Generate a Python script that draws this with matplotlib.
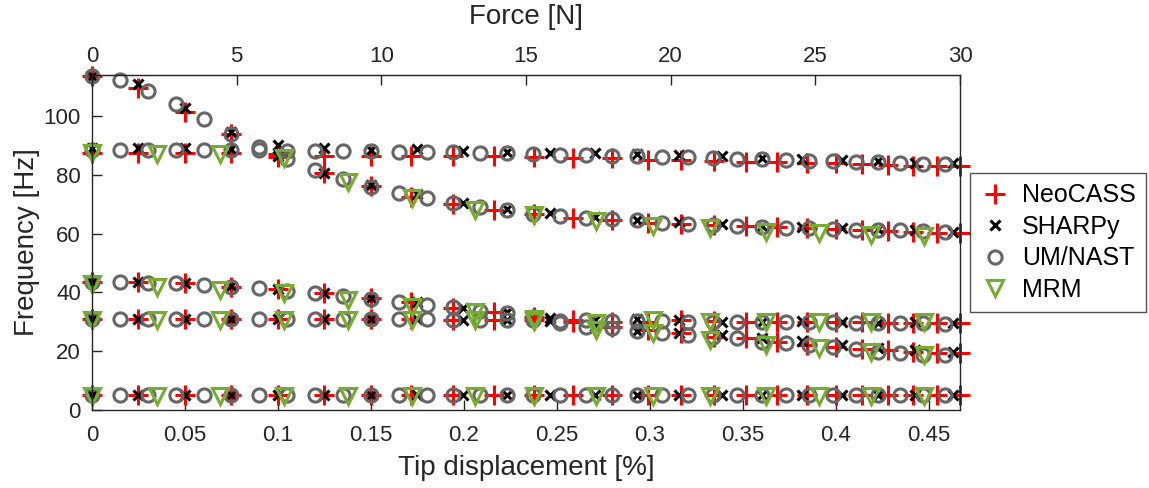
import matplotlib
matplotlib.use("Agg")
import matplotlib.pyplot as plt

plt.rcParams["font.family"] = ["Liberation Sans", "DejaVu Sans"]

# tip displacement [%] of each solver's load steps
neocass_x = [0, 0.025, 0.05, 0.075, 0.1, 0.125, 0.15, 0.1715, 0.194, 0.216, 0.2375, 0.2585, 0.2795,
             0.299, 0.3165, 0.3345, 0.3515, 0.3685, 0.3845, 0.4, 0.414, 0.428, 0.4415, 0.4545, 0.4667]
sharpy_x = [0, 0.025, 0.05, 0.075, 0.1, 0.125, 0.15, 0.1745, 0.1995, 0.223, 0.246, 0.2705, 0.293,
            0.3155, 0.3385, 0.36, 0.3815, 0.403, 0.4225, 0.4425, 0.463]
umnast_x = [0, 0.015, 0.03, 0.045, 0.06, 0.075, 0.09, 0.105, 0.12, 0.135, 0.15, 0.165, 0.18, 0.194,
            0.2085, 0.223, 0.237, 0.2515, 0.2655, 0.2795, 0.293, 0.3065, 0.3205, 0.334, 0.347, 0.36,
            0.373, 0.3855, 0.3985, 0.411, 0.4225, 0.4345, 0.447, 0.4585]
mrm_x = [0, 0.0349, 0.0688, 0.1032, 0.1376, 0.172, 0.2059, 0.2376, 0.271, 0.3016, 0.3323, 0.3624,
         0.3909, 0.4188, 0.4473]

# natural frequencies [Hz], one list per mode
neocass_f1 = [5.2, 5.2, 5.2, 5.2, 5.2, 5.2, 5.2, 5.2, 5.2, 5.2, 5.2, 5.2, 5.2, 5.2, 5.2, 5.2, 5.2,
              5.2, 5.2, 5.2, 5.2, 5.2, 5.2, 5.2, 5.2]
neocass_f2 = [30.9, 30.9, 30.9, 30.9, 30.9, 30.9, 30.9, 30.9, 30.7, 30.7, 30.5, 30.7, 30.1, 30.1,
              30.5, 30.2, 30.1, 29.8, 29.8, 29.8, 29.8, 29.7, 29.5, 29.5, 29.5]
neocass_f3 = [43.7, 43.7, 43.1, 42.0, 41.1, 39.7, 38.0, 36.9, 34.6, 33.5, 31.8, 30.0, 28.4, 27.2,
              26.2, 25.0, 24.5, 23.3, 22.2, 21.3, 20.6, 20.3, 19.9, 19.5, 19.4]
neocass_f4 = [87.3, 87.3, 87.3, 87.3, 87.0, 86.6, 86.6, 86.6, 86.6, 86.3, 86.0, 85.8, 85.6, 85.2,
              85.0, 84.6, 84.4, 84.3, 84.0, 83.9, 83.6, 83.4, 83.2, 83.0, 82.9]
neocass_f5 = [113.5, 109.7, 101.5, 94.0, 86.0, 80.8, 76.2, 72.4, 70.2, 68.0, 66.6, 65.5, 64.6, 63.5,
              63.4, 62.9, 62.5, 62.3, 61.8, 61.6, 61.2, 61.0, 60.6, 60.2, 60.1]

sharpy_f1 = [5.2, 5.2, 5.2, 5.2, 5.2, 5.2, 5.2, 5.2, 5.2, 5.2, 5.2, 5.2, 5.2, 5.2, 5.2, 5.2, 5.2,
             5.2, 5.2, 5.2, 5.2]
sharpy_f2 = [30.9, 30.9, 30.9, 30.9, 30.9, 30.9, 30.9, 30.9, 30.7, 30.7, 30.4, 30.7, 30.9, 30.7,
             29.9, 29.9, 30.2, 29.9, 29.7, 29.9, 29.7]
sharpy_f3 = [43.7, 43.7, 43.2, 42.1, 41.3, 39.9, 38.1, 36.8, 34.7, 33.2, 31.2, 28.5, 27.0, 26.3,
             25.6, 24.6, 23.4, 22.0, 21.2, 20.4, 19.6]
sharpy_f4 = [89.0, 89.0, 89.0, 88.7, 90.2, 89.0, 88.6, 88.7, 88.2, 87.8, 87.6, 87.3, 87.2, 86.8,
             86.3, 85.8, 85.5, 85.1, 84.6, 84.2, 84.0]
sharpy_f5 = [113.5, 110.8, 102.9, 94.7, 86.5, 80.8, 76.5, 73.6, 70.6, 68.4, 67.0, 65.7, 64.7, 64.0,
             63.4, 62.7, 62.3, 61.9, 61.5, 61.1, 60.7]

umnast_f1 = [5.2, 5.2, 5.2, 5.2, 5.2, 5.2, 5.2, 5.2, 5.2, 5.2, 5.2, 5.2, 5.2, 5.2, 5.2, 5.2, 5.2,
             5.2, 5.2, 5.2, 5.2, 5.2, 5.2, 5.2, 5.2, 5.2, 5.2, 5.2, 5.2, 5.2, 5.2, 5.2, 5.2, 5.2]
umnast_f2 = [30.9, 30.9, 30.9, 30.9, 30.9, 30.9, 30.9, 30.9, 30.9, 30.9, 30.9, 30.8, 30.8, 30.7,
             30.7, 30.7, 30.5, 30.2, 30.5, 30.2, 30.4, 30.2, 30.0, 29.9, 29.9, 29.8, 29.8, 29.8,
             29.8, 29.7, 29.7, 29.6, 29.6, 29.4]
umnast_f3 = [43.7, 43.6, 43.3, 43.1, 42.6, 42.0, 41.4, 40.4, 39.8, 38.8, 37.8, 36.7, 35.9, 35.0,
             33.8, 33.0, 31.6, 29.6, 28.4, 27.9, 26.9, 26.2, 25.6, 25.0, 24.5, 23.3, 22.8, 22.2,
             21.6, 20.8, 19.9, 19.4, 18.8, 18.8]
umnast_f4 = [88.6, 88.6, 88.6, 88.6, 88.6, 88.6, 88.6, 88.2, 88.2, 88.0, 88.0, 87.7, 87.7, 87.7,
             87.5, 87.5, 87.2, 86.9, 86.8, 86.6, 86.5, 86.1, 86.0, 85.8, 85.5, 85.4, 85.2, 84.9,
             84.7, 84.4, 84.3, 84.0, 83.8, 83.6]
umnast_f5 = [113.5, 112.2, 108.6, 104.0, 98.9, 94.0, 89.4, 85.3, 81.8, 78.7, 76.0, 74.0, 72.0, 70.6,
             69.0, 68.0, 66.8, 66.0, 65.5, 64.9, 64.5, 63.8, 63.4, 62.9, 62.6, 62.4, 62.1, 61.9,
             61.7, 61.4, 61.3, 61.1, 60.8, 60.6]

mrm_f1 = [4.6, 4.6, 4.6, 4.6, 4.6, 4.6, 4.6, 4.6, 4.6, 4.6, 4.6, 4.6, 4.6, 4.6, 4.6]
mrm_f2 = [30.7, 30.5, 30.5, 30.5, 30.5, 30.7, 30.7, 30.3, 29.6, 30.5, 30.1, 30.1, 30.1, 30.1, 30.1]
mrm_f3 = [42.8, 41.9, 40.8, 39.7, 37.5, 35.2, 33.2, 30.8, 27.3, 26.2, 23.9, 22.2, 21.1, 19.6, 18.8]
mrm_f4 = [87.3, 87.1, 87.1, 85.6, 77.7, 72.1, 68.0, 66.4, 64.2, 62.5, 61.9, 60.7, 60.1, 59.7, 59.1]

x_ticks = [0, 0.05, 0.1, 0.15, 0.2, 0.25, 0.3, 0.35, 0.4, 0.45]
x_tick_labels = ["0", "0.05", "0.1", "0.15", "0.2", "0.25", "0.3", "0.35", "0.4", "0.45"]
force_ticks = [0, 5, 10, 15, 20, 25, 30]
y_ticks = [0, 20, 40, 60, 80, 100]

x_max = 0.4667
force_max = 30.0

dark = "#262626"

fig = plt.figure(figsize=(11.49, 4.88), dpi=100)
ax = fig.add_axes([92 / 1149, 78 / 488, 868 / 1149, 335 / 488])


def draw(x, modes, label, **style):
    for i, f in enumerate(modes):
        ax.plot(x, f, linestyle="none", clip_on=False,
                label=label if i == 0 else None, **style)


draw(neocass_x, [neocass_f1, neocass_f2, neocass_f3, neocass_f4, neocass_f5], "NeoCASS",
     marker="+", color="red", markersize=14, markeredgewidth=2.2)
draw(sharpy_x, [sharpy_f1, sharpy_f2, sharpy_f3, sharpy_f4, sharpy_f5], "SHARPy",
     marker="x", color="black", markersize=6.5, markeredgewidth=2.2)
draw(umnast_x, [umnast_f1, umnast_f2, umnast_f3, umnast_f4, umnast_f5], "UM/NAST",
     marker="o", markerfacecolor="none", markeredgecolor="#666666", markersize=9.5,
     markeredgewidth=2.2)
draw(mrm_x, [mrm_f1, mrm_f2, mrm_f3, mrm_f4], "MRM",
     marker="v", markerfacecolor="none", markeredgecolor="#77AC30", markersize=11.5,
     markeredgewidth=2.2)

ax.set_xlim(0, x_max)
ax.set_ylim(0, 114)
ax.set_xticks(x_ticks, x_tick_labels)
ax.set_yticks(y_ticks)
ax.tick_params(direction="in", length=7, width=1, colors=dark, labelsize=16,
               top=False, right=False)
ax.tick_params(axis="x", pad=11)
ax.tick_params(axis="y", pad=8)
for s in ax.spines.values():
    s.set_color(dark)
    s.set_linewidth(1)

ax.set_xlabel("Tip displacement [%]", fontsize=20, color=dark, labelpad=6)
ax.set_ylabel("Frequency [Hz]", fontsize=20, color=dark, labelpad=2.5)

top = ax.secondary_xaxis("top", functions=(lambda d: d * force_max / x_max,
                                           lambda f: f * x_max / force_max))
top.set_xticks(force_ticks)
top.tick_params(direction="in", length=7, width=1, colors=dark, labelsize=16, pad=5.5)
top.set_xlabel("Force [N]", fontsize=20, color=dark, labelpad=16)

leg = ax.legend(loc="center left", bbox_to_anchor=(1.012, 0.5), fontsize=18,
                frameon=True, fancybox=False, edgecolor=dark, borderpad=0.4,
                handlelength=1.2, handletextpad=0.45, labelspacing=0.3, borderaxespad=0)
leg.get_frame().set_linewidth(1)

fig.savefig("out.png", dpi=100)
